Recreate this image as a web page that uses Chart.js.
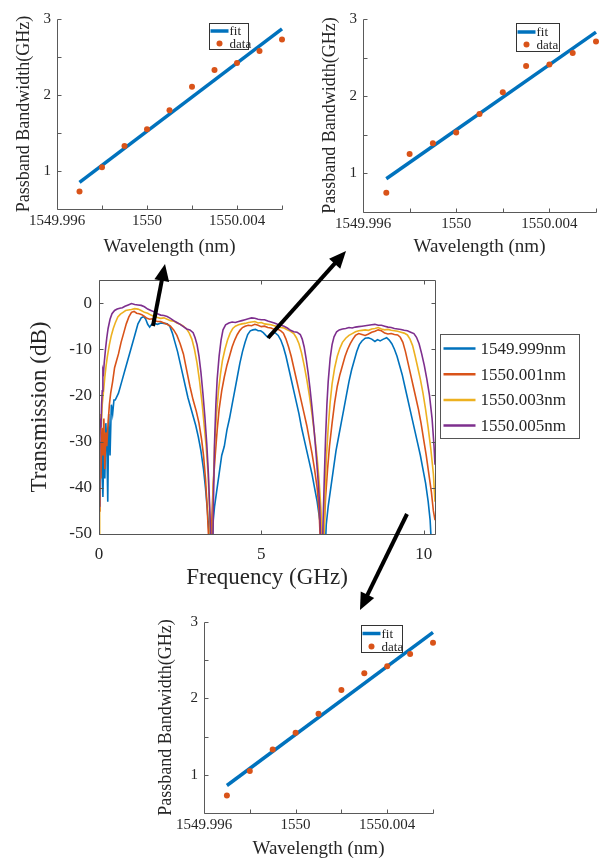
<!DOCTYPE html>
<html>
<head>
<meta charset="utf-8">
<script src="https://cdn.jsdelivr.net/npm/chart.js@4.4.0/dist/chart.umd.min.js"></script>
<style>
  html, body { margin: 0; padding: 0; background: #fff; }
  body { position: relative; width: 606px; height: 863px; overflow: hidden; }
  canvas.chart { position: absolute; }
  #arrows { position: absolute; left: 0; top: 0; z-index: 10; pointer-events: none; }
</style>
</head>
<body>
<canvas class="chart" id="bwLeft" width="303" height="262" style="left:0;top:0"></canvas>
<canvas class="chart" id="bwRight" width="303" height="262" style="left:303px;top:0"></canvas>
<canvas class="chart" id="spectrum" width="606" height="330" style="left:0;top:270px"></canvas>
<canvas class="chart" id="bwBottom" width="300" height="263" style="left:150px;top:600px"></canvas>
<canvas id="arrows" width="606" height="863"></canvas>
<script>
// ---- passband bandwidth vs wavelength (three insets) ----
const wavelength = [1549.997, 1549.998, 1549.999, 1550.000, 1550.001, 1550.002, 1550.003, 1550.004, 1550.005, 1550.006]
const bandwidthLeft = [0.73, 1.05, 1.33, 1.55, 1.80, 2.11, 2.33, 2.42, 2.58, 2.73]
const bandwidthRight = [0.75, 1.25, 1.39, 1.53, 1.77, 2.05, 2.39, 2.41, 2.56, 2.71]
const bandwidthBottom = [0.73, 1.05, 1.33, 1.55, 1.80, 2.11, 2.33, 2.42, 2.58, 2.73]
const fitWavelength = [1549.997, 1550.006]
const fitLeft = [0.85, 2.87]
const fitRight = [0.93, 2.83]
const fitBottom = [0.86, 2.865]

const wavelengthTicks = [1549.996, 1549.998, 1550.000, 1550.002, 1550.004, 1550.006]
const wavelengthTickLabels = ['1549.996', '', '1550', '', '1550.004', '']
const bandwidthTicks = [1, 1.5, 2, 2.5, 3]
const bandwidthTickLabels = ['1', '', '2', '', '3']

// ---- transmission spectra, [frequency GHz, dB] ----
const traceLabels = ['1549.999nm', '1550.001nm', '1550.003nm', '1550.005nm']
const trace1549999 = [[0,-30],[0.03,-44],[0.06,-35],[0.09,-28],[0.12,-42],[0.15,-31],[0.18,-38],[0.21,-26],[0.24,-30],[0.27,-43],[0.3,-24],[0.34,-33],[0.38,-22],[0.42,-24],[0.46,-21],[0.5,-21],[0.6,-19.5],[0.7,-17],[0.8,-14.5],[0.9,-12],[1.0,-9.5],[1.1,-7],[1.2,-4.5],[1.3,-3.2],[1.38,-2.9],[1.44,-3.5],[1.5,-4.6],[1.56,-5.2],[1.62,-4.6],[1.7,-4.4],[1.8,-4.6],[1.9,-4.3],[2.0,-4.4],[2.1,-4.5],[2.18,-5],[2.26,-6.5],[2.34,-8.5],[2.42,-10.5],[2.5,-13],[2.58,-15.5],[2.66,-18],[2.74,-20.5],[2.82,-22.5],[2.9,-24.5],[2.98,-26.5],[3.06,-29],[3.14,-32],[3.22,-36],[3.28,-40],[3.34,-45],[3.38,-49],[3.42,-55],[3.48,-55],[3.52,-47],[3.56,-44],[3.62,-41],[3.7,-37],[3.78,-33],[3.86,-31],[3.94,-27.5],[4.02,-25],[4.1,-22],[4.18,-19],[4.26,-16],[4.34,-13],[4.42,-10.5],[4.5,-8.5],[4.58,-6.8],[4.66,-6],[4.74,-5.8],[4.82,-5.7],[4.9,-6],[4.98,-6],[5.06,-6.4],[5.14,-7],[5.2,-7.4],[5.28,-6.6],[5.36,-6.3],[5.44,-6.5],[5.52,-7],[5.6,-8],[5.68,-9.5],[5.76,-11.5],[5.84,-14],[5.92,-16.5],[6.0,-19],[6.08,-21.5],[6.16,-24],[6.24,-27],[6.32,-29.5],[6.4,-32],[6.48,-34.5],[6.56,-37],[6.64,-40],[6.72,-43],[6.8,-47],[6.86,-52],[6.9,-55],[6.96,-55],[7.0,-48],[7.06,-44],[7.14,-40],[7.22,-36],[7.3,-32],[7.38,-29],[7.46,-26],[7.54,-23],[7.62,-20],[7.7,-17],[7.78,-14.5],[7.86,-12.5],[7.94,-10.5],[8.02,-9],[8.1,-8.2],[8.2,-7.6],[8.3,-7.5],[8.4,-7.8],[8.5,-8.3],[8.58,-7.9],[8.66,-8.2],[8.76,-7.8],[8.86,-7.5],[8.94,-8],[9.02,-8.8],[9.1,-10],[9.18,-11.5],[9.26,-13.5],[9.34,-15.5],[9.42,-18],[9.5,-20.5],[9.58,-23],[9.66,-25.5],[9.74,-28],[9.82,-30.5],[9.9,-33],[9.98,-36],[10.06,-39],[10.14,-43],[10.2,-47],[10.26,-55],[10.35,-55]]
const trace1550001 = [[0,-45],[0.03,-30],[0.06,-38],[0.09,-27],[0.12,-33],[0.15,-25],[0.18,-36],[0.21,-28],[0.24,-31],[0.28,-26],[0.32,-22],[0.36,-19.5],[0.42,-17],[0.48,-14],[0.54,-12.5],[0.6,-11],[0.68,-8.5],[0.76,-6.5],[0.84,-4.5],[0.92,-3],[1.0,-2],[1.08,-1.8],[1.16,-2.2],[1.24,-2.3],[1.32,-2.5],[1.4,-2.9],[1.48,-3.3],[1.56,-3.5],[1.64,-3.4],[1.72,-3.8],[1.8,-4],[1.9,-4],[2.0,-4.3],[2.1,-4.6],[2.2,-5],[2.3,-5.8],[2.4,-7],[2.5,-8.8],[2.6,-11],[2.7,-14.5],[2.8,-18],[2.9,-21],[3.0,-23.5],[3.08,-26],[3.16,-29.5],[3.22,-33],[3.28,-38],[3.33,-44],[3.37,-50],[3.4,-55],[3.44,-55],[3.48,-46],[3.52,-39],[3.58,-33],[3.64,-27.5],[3.7,-23],[3.78,-19],[3.86,-16],[3.94,-13.5],[4.02,-11.5],[4.1,-9.5],[4.18,-8],[4.26,-6.8],[4.34,-5.9],[4.42,-5.3],[4.5,-5],[4.6,-4.8],[4.7,-4.9],[4.8,-4.6],[4.9,-4.8],[5.0,-5.1],[5.1,-5],[5.2,-5.3],[5.3,-5.4],[5.4,-5.7],[5.5,-5.6],[5.6,-6],[5.68,-6.5],[5.76,-7.8],[5.84,-9.5],[5.92,-11.5],[6.0,-14],[6.08,-16.5],[6.16,-19],[6.24,-21.5],[6.32,-24],[6.4,-26.5],[6.48,-29.5],[6.56,-32.5],[6.64,-36],[6.72,-40],[6.78,-45],[6.82,-52],[6.86,-55],[6.9,-55],[6.94,-48],[6.98,-42],[7.04,-36],[7.1,-31],[7.18,-26],[7.26,-21.5],[7.34,-18],[7.42,-15.5],[7.5,-13.5],[7.58,-11.5],[7.66,-10],[7.74,-8.8],[7.82,-7.8],[7.9,-7],[8.0,-6.6],[8.1,-6.8],[8.2,-7],[8.3,-6.7],[8.4,-6.3],[8.5,-6.1],[8.6,-5.8],[8.7,-6],[8.8,-6.5],[8.9,-6.7],[9.0,-6.6],[9.1,-6.8],[9.2,-6.9],[9.28,-7.4],[9.36,-8.5],[9.44,-10.5],[9.52,-13],[9.6,-15.5],[9.68,-18],[9.76,-20.5],[9.84,-23],[9.92,-26],[10.0,-29.5],[10.08,-33],[10.16,-37],[10.24,-41],[10.3,-45],[10.35,-47]]
const trace1550003 = [[0,-50],[0.02,-30],[0.04,-24],[0.07,-27],[0.1,-22],[0.14,-19],[0.18,-16],[0.22,-13.5],[0.26,-11.5],[0.32,-9],[0.38,-7],[0.44,-5.5],[0.5,-4.3],[0.58,-3],[0.66,-2.4],[0.74,-2],[0.82,-1.6],[0.9,-1.5],[1.0,-1.4],[1.1,-1.2],[1.2,-1.3],[1.3,-1.6],[1.4,-2],[1.5,-2.2],[1.6,-2.6],[1.7,-2.9],[1.8,-3.1],[1.9,-3.3],[2.0,-3.2],[2.1,-3.5],[2.2,-3.8],[2.3,-3.9],[2.4,-4.3],[2.5,-4.6],[2.6,-5],[2.7,-5.6],[2.78,-6.5],[2.86,-7.8],[2.94,-10],[3.02,-13],[3.1,-17],[3.18,-22],[3.24,-26.5],[3.3,-31],[3.36,-37],[3.4,-44],[3.44,-55],[3.48,-55],[3.52,-40],[3.56,-31],[3.62,-24],[3.68,-19],[3.74,-15.5],[3.8,-12.5],[3.88,-10],[3.96,-8],[4.04,-6.5],[4.12,-5.5],[4.2,-5],[4.3,-4.7],[4.4,-4.5],[4.5,-4.4],[4.6,-4.2],[4.7,-4.1],[4.8,-4],[4.9,-4.3],[5.0,-4.2],[5.1,-4.5],[5.2,-4.6],[5.3,-4.7],[5.4,-4.9],[5.5,-5.1],[5.6,-5.3],[5.7,-5.4],[5.8,-5.8],[5.9,-6.1],[6.0,-6.6],[6.08,-7.5],[6.16,-8.8],[6.24,-10.8],[6.32,-13.5],[6.4,-16.5],[6.48,-20],[6.56,-24],[6.64,-28.5],[6.72,-33.5],[6.78,-38.5],[6.84,-45],[6.88,-55],[6.92,-55],[6.96,-42],[7.0,-34],[7.06,-27],[7.12,-21.5],[7.18,-17.5],[7.26,-14],[7.34,-11.5],[7.42,-9.8],[7.5,-8.5],[7.6,-7.6],[7.7,-7],[7.8,-6.6],[7.9,-6.2],[8.0,-6],[8.1,-5.9],[8.2,-5.8],[8.3,-5.9],[8.4,-5.6],[8.5,-5.5],[8.6,-5.3],[8.7,-5.6],[8.8,-5.8],[8.9,-5.7],[9.0,-5.9],[9.1,-6],[9.2,-6.1],[9.3,-6.3],[9.4,-6.5],[9.5,-6.9],[9.58,-7.8],[9.66,-9.2],[9.74,-11.5],[9.82,-14],[9.9,-16.5],[9.98,-19.5],[10.06,-23],[10.14,-27],[10.22,-31.5],[10.3,-37],[10.35,-43]]
const trace1550005 = [[0,-44],[0.02,-32],[0.04,-25],[0.06,-27],[0.08,-22],[0.1,-19],[0.12,-14.5],[0.14,-15],[0.16,-13],[0.2,-10],[0.24,-7.5],[0.28,-5.5],[0.34,-3.5],[0.4,-2.3],[0.48,-1.6],[0.56,-1.3],[0.64,-1.1],[0.72,-1],[0.8,-0.7],[0.9,-0.4],[1.0,-0.1],[1.1,-0.3],[1.2,-0.4],[1.3,-0.5],[1.4,-0.8],[1.5,-1.3],[1.6,-1.6],[1.7,-1.9],[1.8,-2.3],[1.9,-2.6],[2.0,-2.7],[2.1,-2.9],[2.2,-3.3],[2.3,-3.8],[2.4,-4.2],[2.5,-4.6],[2.6,-5.1],[2.7,-5.6],[2.8,-5.8],[2.9,-6.4],[2.96,-7.5],[3.02,-9],[3.08,-11.5],[3.14,-15],[3.2,-19.5],[3.26,-24.5],[3.32,-30.5],[3.37,-37],[3.42,-46],[3.46,-55],[3.5,-55],[3.52,-45],[3.56,-30],[3.6,-22],[3.64,-16.5],[3.7,-11.5],[3.76,-8],[3.82,-5.8],[3.9,-4.7],[4.0,-4.3],[4.1,-4.1],[4.2,-4.2],[4.3,-4],[4.4,-3.8],[4.5,-3.6],[4.6,-3.4],[4.7,-3.2],[4.8,-3.3],[4.9,-3.5],[5.0,-3.6],[5.1,-3.6],[5.2,-3.9],[5.3,-4.1],[5.4,-4.3],[5.5,-4.6],[5.6,-4.8],[5.7,-5],[5.8,-5.4],[5.9,-5.9],[6.0,-6.2],[6.1,-6.3],[6.2,-6.8],[6.26,-7.8],[6.32,-9.5],[6.38,-12],[6.44,-15],[6.5,-18.5],[6.56,-22.5],[6.62,-27],[6.68,-32],[6.74,-37.5],[6.8,-44],[6.84,-55],[6.88,-55],[6.9,-48],[6.94,-38],[6.98,-29],[7.02,-22],[7.06,-17],[7.12,-12],[7.18,-9],[7.24,-7.3],[7.32,-6.2],[7.4,-5.8],[7.5,-5.6],[7.6,-5.5],[7.7,-5.3],[7.8,-5.4],[7.9,-5.2],[8.0,-5.1],[8.1,-5],[8.2,-4.9],[8.3,-4.8],[8.4,-4.7],[8.5,-4.6],[8.6,-4.8],[8.7,-4.8],[8.8,-5],[8.9,-5.2],[9.0,-5.3],[9.1,-5.5],[9.2,-5.6],[9.3,-5.7],[9.4,-5.9],[9.5,-6],[9.6,-6.3],[9.7,-6.6],[9.78,-7.4],[9.86,-8.8],[9.94,-11],[10.02,-13.5],[10.1,-16.5],[10.18,-20],[10.26,-25],[10.32,-31],[10.35,-35]]
const traceColors = ['#0072BD', '#D95319', '#EDB120', '#7E2F8E']

const freqTicks = [0, 5, 10]
const freqTickLabels = ['0', '5', '10']
const dbTicks = [-50, -40, -30, -20, -10, 0]
const dbTickLabels = ['-50', '-40', '-30', '-20', '-10', '0']

const serif = "'Liberation Serif', 'Times New Roman', serif"
Chart.defaults.font.family = serif
Chart.defaults.color = '#262626'

// MATLAB-ish axes: inward ticks, optional full box, legend inside a framed box
const matlabAxes = {
  id: 'matlabAxes',
  afterDatasetsDraw(chart, args, o) {
    const { ctx, chartArea: a, scales: { x, y } } = chart
    const L = Math.round(a.left) + 0.5, R = Math.round(a.right) + 0.5
    const T = Math.round(a.top) + 0.5, B = Math.round(a.bottom) + 0.5
    ctx.save()
    ctx.strokeStyle = o.axisColor
    ctx.lineWidth = 1
    ctx.beginPath()
    ctx.moveTo(L, T); ctx.lineTo(L, B); ctx.lineTo(R, B)
    if (o.box) { ctx.lineTo(R, T); ctx.lineTo(L, T) }
    x.ticks.forEach(t => {
      const px = Math.round(x.getPixelForValue(t.value)) + 0.5
      ctx.moveTo(px, B); ctx.lineTo(px, B - o.tickLen)
      if (o.box) { ctx.moveTo(px, T); ctx.lineTo(px, T + o.tickLen) }
    })
    y.ticks.forEach(t => {
      const py = Math.round(y.getPixelForValue(t.value)) + 0.5
      ctx.moveTo(L, py); ctx.lineTo(L + o.tickLen, py)
      if (o.box) { ctx.moveTo(R, py); ctx.lineTo(R - o.tickLen, py) }
    })
    ctx.stroke()

    const lg = o.legend
    const bx = Math.round(a.right + lg.dx) + 0.5, by = Math.round(a.top + lg.dy) + 0.5
    ctx.fillStyle = '#fff'
    ctx.fillRect(bx, by, lg.w, lg.h)
    ctx.lineWidth = 1
    ctx.strokeStyle = lg.borderColor
    ctx.strokeRect(bx, by, lg.w, lg.h)
    ctx.font = lg.fontSize + 'px ' + serif
    ctx.textBaseline = 'middle'
    ctx.textAlign = 'left'
    chart.data.datasets.forEach((ds, i) => {
      const ry = by + lg.firstRow + i * lg.rowH
      if (ds.showLine === false) {
        ctx.fillStyle = ds.backgroundColor
        ctx.beginPath()
        ctx.arc(bx + (lg.sampleFrom + lg.sampleTo) / 2, ry, ds.pointRadius, 0, Math.PI * 2)
        ctx.fill()
      } else {
        ctx.strokeStyle = ds.borderColor
        ctx.lineWidth = lg.lineWidth
        ctx.beginPath()
        ctx.moveTo(bx + lg.sampleFrom, ry); ctx.lineTo(bx + lg.sampleTo, ry)
        ctx.stroke()
      }
      ctx.fillStyle = '#262626'
      ctx.fillText(ds.label, bx + lg.textX, ry + 1)
    })
    ctx.restore()
  }
}
Chart.register(matlabAxes)

// keep the plot box exactly where we put it: drop the label overhang padding
function pinScale(s, size) {
  if (s.isHorizontal()) s.height = size
  else s.width = size
  s.paddingTop = 0; s.paddingBottom = 0; s.paddingLeft = 0; s.paddingRight = 0
}

function points(xs, ys) {
  return xs.map((v, i) => ({ x: v, y: ys[i] }))
}

function bandwidthChart(id, values, fit, area, titles, legend) {
  const canvas = document.getElementById(id)
  const W = canvas.width, H = canvas.height
  return new Chart(canvas, {
    type: 'line',
    data: {
      datasets: [{
        label: 'fit',
        data: points(fitWavelength, fit),
        borderColor: '#0072BD',
        borderWidth: 3.5,
        pointRadius: 0,
        order: 1,
        clip: false,
      }, {
        label: 'data',
        data: points(wavelength, values),
        showLine: false,
        backgroundColor: '#D95319',
        borderColor: '#D95319',
        pointRadius: 3,
        pointBorderWidth: 0,
        order: 0,
        clip: false,
      }],
    },
    options: {
      responsive: false,
      animation: false,
      events: [],
      layout: { autoPadding: false, padding: { left: 0, top: area.t, right: W - area.r, bottom: 0 } },
      plugins: {
        legend: { display: false },
        tooltip: { enabled: false },
        matlabAxes: { axisColor: '#5a5a5a', tickLen: 4, box: false, legend },
      },
      scales: {
        x: {
          type: 'linear',
          min: 1549.996,
          max: 1550.006,
          afterBuildTicks: s => { s.ticks = wavelengthTicks.map(v => ({ value: v })) },
          afterFit: s => pinScale(s, H - area.b),
          grid: { display: false, drawTicks: false },
          border: { display: false },
          ticks: { padding: 3, font: { size: 15 }, maxRotation: 0, autoSkip: false, callback: (v, i) => wavelengthTickLabels[i] },
          title: { display: true, text: 'Wavelength (nm)', font: { size: 19 }, padding: { top: 0, bottom: titles.xPad } },
        },
        y: {
          type: 'linear',
          min: 0.5,
          max: 3,
          afterBuildTicks: s => { s.ticks = bandwidthTicks.map(v => ({ value: v })) },
          afterFit: s => pinScale(s, area.l),
          grid: { display: false, drawTicks: false },
          border: { display: false },
          ticks: { padding: 6, font: { size: 15 }, autoSkip: false, callback: (v, i) => bandwidthTickLabels[i] },
          title: { display: true, text: 'Passband Bandwidth(GHz)', font: { size: 18 }, padding: { top: titles.yPad, bottom: 0 } },
        },
      },
    },
  })
}

bandwidthChart('bwLeft', bandwidthLeft, fitLeft,
  { l: 57, t: 19, r: 282, b: 209 },
  { xPad: 3.6, yPad: 13.2 },
  { dx: -73, dy: 4, w: 39, h: 26, firstRow: 7.5, rowH: 12.5, sampleFrom: 1, sampleTo: 19, textX: 20, fontSize: 13, lineWidth: 3.5, borderColor: '#333' })

bandwidthChart('bwRight', bandwidthRight, fitRight,
  { l: 60, t: 19, r: 293, b: 212 },
  { xPad: 3.6, yPad: 16.2 },
  { dx: -80, dy: 4, w: 43, h: 28, firstRow: 8.5, rowH: 12.5, sampleFrom: 1, sampleTo: 19, textX: 20, fontSize: 13, lineWidth: 3.5, borderColor: '#333' })

bandwidthChart('bwBottom', bandwidthBottom, fitBottom,
  { l: 54, t: 22, r: 283, b: 213 },
  { xPad: 2.6, yPad: 5.2 },
  { dx: -72, dy: 3, w: 41, h: 27, firstRow: 8, rowH: 13, sampleFrom: 1, sampleTo: 19, textX: 20, fontSize: 13, lineWidth: 3.5, borderColor: '#333' })

// ---- main spectrum ----
;(() => {
  const canvas = document.getElementById('spectrum')
  const W = canvas.width, H = canvas.height
  const area = { l: 99, t: 10, r: 435, b: 264 }
  const traces = [trace1549999, trace1550001, trace1550003, trace1550005]
  new Chart(canvas, {
    type: 'line',
    data: {
      datasets: traces.map((tr, i) => ({
        label: traceLabels[i],
        data: tr.map(p => ({ x: p[0], y: p[1] })),
        borderColor: traceColors[i],
        borderWidth: 1.6,
        pointRadius: 0,
        tension: 0,
        order: traces.length - i,
        clip: 0,
      })),
    },
    options: {
      responsive: false,
      animation: false,
      events: [],
      layout: { autoPadding: false, padding: { left: 0, top: area.t, right: W - area.r, bottom: 0 } },
      plugins: {
        legend: { display: false },
        tooltip: { enabled: false },
        matlabAxes: {
          axisColor: '#555', tickLen: 4, box: true,
          legend: { dx: 5, dy: 54, w: 139, h: 104, firstRow: 14, rowH: 25.7, sampleFrom: 3, sampleTo: 35, textX: 40, fontSize: 17, lineWidth: 2.5, borderColor: '#555' },
        },
      },
      scales: {
        x: {
          type: 'linear',
          min: 0,
          max: 10.35,
          afterBuildTicks: s => { s.ticks = freqTicks.map(v => ({ value: v })) },
          afterFit: s => pinScale(s, H - area.b),
          grid: { display: false, drawTicks: false },
          border: { display: false },
          ticks: { padding: 10, font: { size: 17 }, maxRotation: 0, autoSkip: false, callback: (v, i) => freqTickLabels[i] },
          title: { display: true, text: 'Frequency (GHz)', font: { size: 23 }, padding: { top: 0, bottom: 8 } },
        },
        y: {
          type: 'linear',
          min: -50,
          max: 5,
          afterBuildTicks: s => { s.ticks = dbTicks.map(v => ({ value: v })) },
          afterFit: s => pinScale(s, area.l),
          grid: { display: false, drawTicks: false },
          border: { display: false },
          ticks: { padding: 7, font: { size: 17 }, autoSkip: false, callback: (v, i) => dbTickLabels[i] },
          title: { display: true, text: 'Transmission (dB)', font: { size: 23 }, padding: { top: 26, bottom: 0 } },
        },
      },
    },
  })
})()

// ---- annotation arrows linking the spectrum to the insets ----
const arrowSegments = [[153, 326, 165, 264], [268, 338, 346, 251], [407, 514, 360, 610]]
const actx = document.getElementById('arrows').getContext('2d')
actx.fillStyle = '#000'
actx.strokeStyle = '#000'
arrowSegments.forEach(([x0, y0, x1, y1]) => {
  const ang = Math.atan2(y1 - y0, x1 - x0)
  const head = 17, half = 7.5
  const cx = x1 - head * Math.cos(ang), cy = y1 - head * Math.sin(ang)
  actx.lineWidth = 4
  actx.beginPath()
  actx.moveTo(x0, y0)
  actx.lineTo(cx + 2 * Math.cos(ang), cy + 2 * Math.sin(ang))
  actx.stroke()
  actx.beginPath()
  actx.moveTo(x1, y1)
  actx.lineTo(cx + half * Math.sin(ang), cy - half * Math.cos(ang))
  actx.lineTo(cx - half * Math.sin(ang), cy + half * Math.cos(ang))
  actx.closePath()
  actx.fill()
})
</script>
</body>
</html>
